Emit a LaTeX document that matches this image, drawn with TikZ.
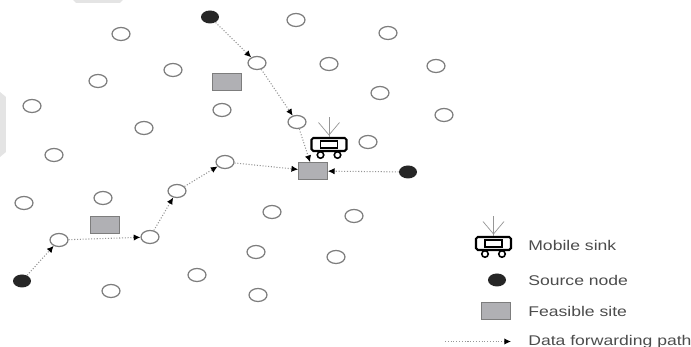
\documentclass[tikz,border=0pt]{standalone}
\usepackage{fontspec}
\setmainfont[FakeStretch=1.25]{Liberation Sans}
\usetikzlibrary{shapes.geometric,arrows.meta}
\definecolor{sitegray}{RGB}{176,176,180}
\definecolor{linegray}{RGB}{125,125,125}
\definecolor{pathgray}{RGB}{150,150,150}
\definecolor{smudge}{RGB}{228,228,228}
\newcommand{\wsnnode}[2] {\node at (#1) (#2) [ellipse, draw=linegray, line width=0.7pt, fill=white, minimum width=0.36cm, minimum height=0.26cm, inner sep=0pt] {};}
\newcommand{\wsnsource}[2] {\node at (#1) (#2) [ellipse, fill=black!85, minimum width=0.36cm, minimum height=0.26cm, inner sep=0pt] {};}
\newcommand{\wsnsite}[2] {\node at (#1) (#2) [rectangle, draw=linegray, fill=sitegray, minimum width=0.58cm, minimum height=0.34cm, inner sep=0pt] {};}
\newcommand{\wsnhop}[2] {\draw [densely dotted, pathgray, line width=0.6pt, -{Latex[black,length=3.8pt,width=3.6pt]}] (#1) -- (#2);}
\newcommand{\wsnlabel}[3] {\node at (#1) (#2) [anchor=west, inner sep=0pt, text=black!70, font=\fontsize{8}{10}\selectfont] {#3};}
\newcommand{\wsnsink}[2] {
\node at (#1) (#2) [rectangle, draw, line width=1.2pt, rounded corners=1pt, minimum width=0.70cm, minimum height=0.26cm, inner sep=0pt] {};
\node at (#2) (#2inner) [rectangle, draw, line width=0.8pt, minimum width=0.34cm, minimum height=0.14cm, inner sep=0pt] {};
\node at ([shift={(-0.17,-0.21)}]#2) (#2wheela) [circle, draw, line width=0.9pt, minimum size=0.13cm, inner sep=0pt] {};
\node at ([shift={(0.17,-0.21)}]#2) (#2wheelb) [circle, draw, line width=0.9pt, minimum size=0.13cm, inner sep=0pt] {};
\coordinate (#2top) at ([shift={(0,0.54)}]#2);
\coordinate (#2fork) at ([shift={(0,0.19)}]#2);
\coordinate (#2left) at ([shift={(-0.21,0.44)}]#2);
\coordinate (#2right) at ([shift={(0.21,0.44)}]#2);
\draw [pathgray] (#2.north) -- (#2top);
\draw [pathgray] (#2left) -- (#2fork) -- (#2right);
}

\begin{document}
\begin{tikzpicture}
\useasboundingbox (0,0) rectangle (13.82,6.94);

\fill [smudge] (1.46,6.94) -- (2.46,6.94) -- (2.40,6.88) -- (1.52,6.88) -- cycle;
\fill [smudge] (0,5.10) -- (0.12,5.00) -- (0.12,3.90) -- (0,3.80) -- cycle;

\wsnnode {2.42,6.26}{n1}
\wsnnode {5.92,6.54}{n2}
\wsnnode {7.76,6.28}{n3}
\wsnnode {5.14,5.68}{hopa1}
\wsnnode {6.58,5.66}{n5}
\wsnnode {8.72,5.62}{n6}
\wsnnode {1.96,5.32}{n7}
\wsnnode {3.46,5.54}{n8}
\wsnnode {7.60,5.08}{n9}
\wsnnode {0.64,4.82}{n10}
\wsnnode {4.44,4.74}{n11}
\wsnnode {5.94,4.50}{hopa2}
\wsnnode {8.88,4.64}{n13}
\wsnnode {2.88,4.38}{n14}
\wsnnode {7.36,4.10}{n15}
\wsnnode {1.08,3.84}{n16}
\wsnnode {4.50,3.70}{hopb4}
\wsnnode {3.54,3.12}{hopb3}
\wsnnode {2.06,2.98}{n19}
\wsnnode {0.48,2.88}{n20}
\wsnnode {5.44,2.70}{n21}
\wsnnode {7.08,2.62}{n22}
\wsnnode {1.18,2.14}{hopb1}
\wsnnode {3.00,2.20}{hopb2}
\wsnnode {5.12,1.90}{n25}
\wsnnode {6.72,1.80}{n26}
\wsnnode {3.94,1.44}{n27}
\wsnnode {2.22,1.12}{n28}
\wsnnode {5.16,1.04}{n29}

\wsnsource {4.20,6.60}{srca}
\wsnsource {0.44,1.32}{srcb}
\wsnsource {8.16,3.50}{srcc}

\wsnsite {4.54,5.30}{sitea}
\wsnsite {2.10,2.44}{siteb}
\wsnsite {6.26,3.52}{sitec}

\wsnsink {6.58,4.05}{sink}

\wsnhop {srca}{hopa1}
\wsnhop {hopa1}{hopa2}
\wsnhop {hopa2}{sitec}
\wsnhop {srcb}{hopb1}
\wsnhop {hopb1}{hopb2}
\wsnhop {hopb2}{hopb3}
\wsnhop {hopb3}{hopb4}
\wsnhop {hopb4}{sitec}
\wsnhop {srcc}{sitec}

% legend
\wsnsink {9.87,2.07}{keysink}
\wsnsource {9.94,1.34}{keysrc}
\wsnsite {9.92,0.72}{keysite}
\coordinate (keya) at (8.90,0.11);
\coordinate (keyb) at (10.22,0.11);
\wsnhop {keya}{keyb}
\wsnlabel {10.56,2.04}{labsink}{Mobile sink}
\wsnlabel {10.56,1.34}{labsrc}{Source node}
\wsnlabel {10.56,0.72}{labsite}{Feasible site}
\wsnlabel {10.56,0.10}{labpath}{Data forwarding path}
\end{tikzpicture}
\end{document}
